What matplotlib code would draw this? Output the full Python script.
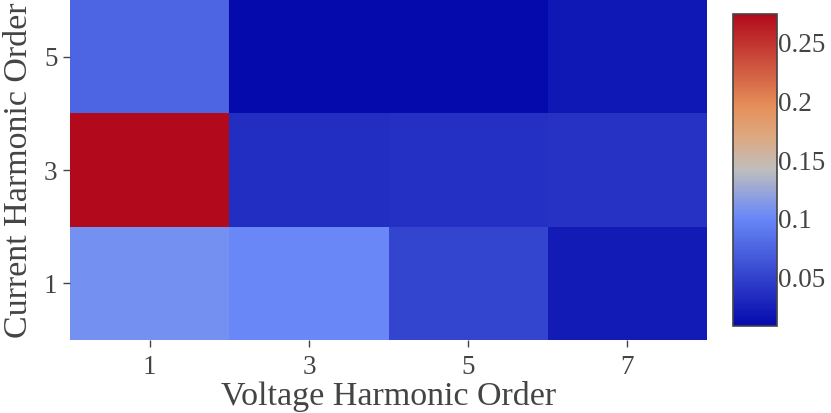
import numpy as np
import matplotlib.pyplot as plt
from matplotlib.colors import LinearSegmentedColormap

# harmonic orders and the coupling values
voltage_orders = [1, 3, 5, 7]
current_orders = [1, 3, 5]
row_h1 = [0.107, 0.100, 0.052, 0.022]
row_h3 = [0.2746, 0.035, 0.037, 0.038]
row_h5 = [0.076, 0.009, 0.009, 0.018]
cbar_ticks = [0.05, 0.1, 0.15, 0.2, 0.25]

z = np.array([row_h1, row_h3, row_h5])

# plotly style RdBu, reversed (blue = low)
stops = [(0.0, (5, 10, 172)), (0.35, (106, 137, 247)), (0.5, (190, 190, 190)),
         (0.6, (220, 170, 132)), (0.7, (230, 145, 90)), (1.0, (178, 10, 28))]
cmap = LinearSegmentedColormap.from_list(
    'rdbu_r', [(p, tuple(c / 255 for c in rgb)) for p, rgb in stops])

plt.rcParams['font.family'] = ['Liberation Serif', 'DejaVu Serif']
txt = '#444444'

fig = plt.figure(figsize=(8.31, 4.13), dpi=100)
ax = fig.add_axes([70 / 831, 1 - 340 / 413, 637 / 831, 340 / 413])

xe = np.array(voltage_orders + [voltage_orders[-1] + 2]) - 1
ye = np.array(current_orders + [current_orders[-1] + 2]) - 1
mesh = ax.pcolormesh(xe, ye, z, cmap=cmap, vmin=0.0085, vmax=0.2746)

ax.set_xticks(voltage_orders)
ax.set_yticks(current_orders)
ax.set_xlim(xe[0], xe[-1])
ax.set_ylim(ye[0], ye[-1])
for s in ax.spines.values():
    s.set_visible(False)
ax.tick_params(axis='both', colors=txt, labelsize=19.5, length=5, width=1, pad=4)
ax.tick_params(axis='x', pad=6)
ax.set_xlabel('Voltage Harmonic Order', fontsize=24.5, color=txt, labelpad=0.5)
ax.set_ylabel('Current Harmonic Order', fontsize=24.5, color=txt, labelpad=7)

cax = fig.add_axes([733 / 831, 1 - 326 / 413, 44 / 831, 312 / 413])
cb = fig.colorbar(mesh, cax=cax, ticks=cbar_ticks)
cb.ax.set_yticklabels([f'{t:g}' for t in cbar_ticks])
cb.ax.tick_params(length=0, labelsize=19.5, colors=txt, pad=1)
cb.outline.set_edgecolor('#444444')
cb.outline.set_linewidth(1.2)

fig.savefig('out.png', dpi=100)
